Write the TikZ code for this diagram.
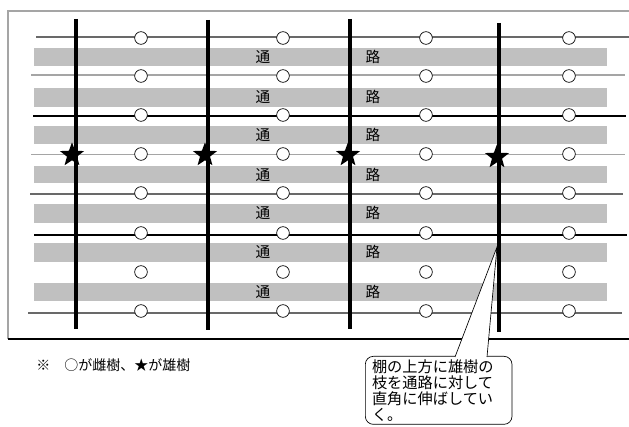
\documentclass[tikz,border=0pt]{standalone}
\usepackage{fontspec}
\newfontfamily\jpfont{Noto Sans CJK JP}
\usetikzlibrary{shapes.geometric}
\definecolor{bandgray}{RGB}{192,192,192}
\definecolor{linegray}{RGB}{105,105,105}
\definecolor{palegray}{RGB}{165,165,165}

\tikzset{
    female/.style={circle,draw,fill=white,line width=0.5pt,inner sep=0pt,minimum size=9.5pt},
    male/.style={star,star points=5,star point ratio=2.4,fill=black,inner sep=0pt,minimum size=19pt},
    post/.style={line width=2.3pt},
    band/.style={fill=bandgray},
    aisle/.style={font=\jpfont\fontsize{11}{11}\selectfont,inner sep=0pt},
}

\begin{document}
\begin{tikzpicture}[x=0.75pt,y=0.75pt,yscale=-1,xscale=1]
        \useasboundingbox (0,0) rectangle (629,427);
        \fill[white] (0,0) rectangle (629,427);

        \draw [palegray,line width=0.8pt] (8,339) -- (8,11) -- (629,11) ;
        \draw [line width=1.6pt] (8,339) -- (629,339) ;

        \fill [band] (34,48) rectangle (607,66) ;
        \fill [band] (34,88) rectangle (607,107) ;
        \fill [band] (34,126) rectangle (607,144) ;
        \fill [band] (34,166) rectangle (607,183) ;
        \fill [band] (34,204) rectangle (607,223) ;
        \fill [band] (34,243) rectangle (607,262) ;
        \fill [band] (34,283) rectangle (607,301) ;

        \draw [linegray,line width=0.8pt] (36,37) -- (629,37) ;
        \draw [palegray,line width=0.8pt] (31,75) -- (625,75) ;
        \draw [line width=1.5pt] (33,116) -- (626,116) ;
        \draw [palegray,line width=0.6pt] (31,154) -- (625,154) ;
        \draw [linegray,line width=0.8pt] (30,194) -- (623,194) ;
        \draw [line width=0.8pt] (34,235) -- (627,235) ;
        \draw [linegray,line width=0.8pt] (28,313) -- (622,313) ;

        \node [aisle] (t1) at (263,57) {通}; \node [aisle] (r1) at (373,57) {路};
        \node [aisle] (t2) at (263,97) {通}; \node [aisle] (r2) at (373,97) {路};
        \node [aisle] (t3) at (263,135) {通}; \node [aisle] (r3) at (373,135) {路};
        \node [aisle] (t4) at (263,175) {通}; \node [aisle] (r4) at (373,175) {路};
        \node [aisle] (t5) at (263,213) {通}; \node [aisle] (r5) at (373,213) {路};
        \node [aisle] (t6) at (263,252) {通}; \node [aisle] (r6) at (373,252) {路};
        \node [aisle] (t7) at (263,292) {通}; \node [aisle] (r7) at (373,292) {路};

        \node [female] (f11) at (141,38) {}; \node [female] (f12) at (283,38) {}; \node [female] (f13) at (426,38) {}; \node [female] (f14) at (569,38) {};
        \node [female] (f21) at (141,76) {}; \node [female] (f22) at (283,76) {}; \node [female] (f23) at (426,76) {}; \node [female] (f24) at (569,76) {};
        \node [female] (f31) at (141,115) {}; \node [female] (f32) at (283,115) {}; \node [female] (f33) at (426,115) {}; \node [female] (f34) at (569,115) {};
        \node [female] (f41) at (141,154) {}; \node [female] (f42) at (283,154) {}; \node [female] (f43) at (426,154) {}; \node [female] (f44) at (569,154) {};
        \node [female] (f51) at (141,193) {}; \node [female] (f52) at (283,193) {}; \node [female] (f53) at (426,193) {}; \node [female] (f54) at (569,193) {};
        \node [female] (f61) at (141,233) {}; \node [female] (f62) at (283,233) {}; \node [female] (f63) at (426,233) {}; \node [female] (f64) at (569,233) {};
        \node [female] (f71) at (141,272) {}; \node [female] (f72) at (283,272) {}; \node [female] (f73) at (426,272) {}; \node [female] (f74) at (569,272) {};
        \node [female] (f81) at (141,311) {}; \node [female] (f82) at (283,311) {}; \node [female] (f83) at (426,311) {}; \node [female] (f84) at (569,311) {};

        % callout
        \node [draw,fill=white,rounded corners=6pt,line width=0.5pt,anchor=north west,inner xsep=5pt,inner ysep=1pt,
               minimum width=110pt,minimum height=51pt,text width=100pt,align=left,
               font=\jpfont\fontsize{11.4}{12}\selectfont] (note) at (365,356)
               {棚の上方に雄樹の\\枝を通路に対して\\直角に伸ばしてい\\く。};
        \coordinate (tip) at (497,247);
        \coordinate (pl) at (455,357);
        \coordinate (pr) at (487,357);
        \fill [white] (pl) -- (tip) -- (pr) -- cycle ;
        \draw [line width=0.5pt] (pl) -- (tip) -- (pr) ;

        \draw [post] (76,19) -- (76,329) ;
        \draw [post] (208,20) -- (208,330) ;
        \draw [post] (350,19) -- (350,329) ;
        \draw [post] (499,23) -- (499,332) ;

        \node [male] (m1) at (72,155) {};
        \node [male] (m2) at (205,155) {};
        \node [male] (m3) at (348,155) {};
        \node [male] (m4) at (497,157) {};

        \node [anchor=west,inner sep=0pt,font=\jpfont\fontsize{10.5}{10.5}\selectfont] (legend) at (36,365) {※　○が雌樹、★が雄樹};

\end{tikzpicture}
\end{document}
